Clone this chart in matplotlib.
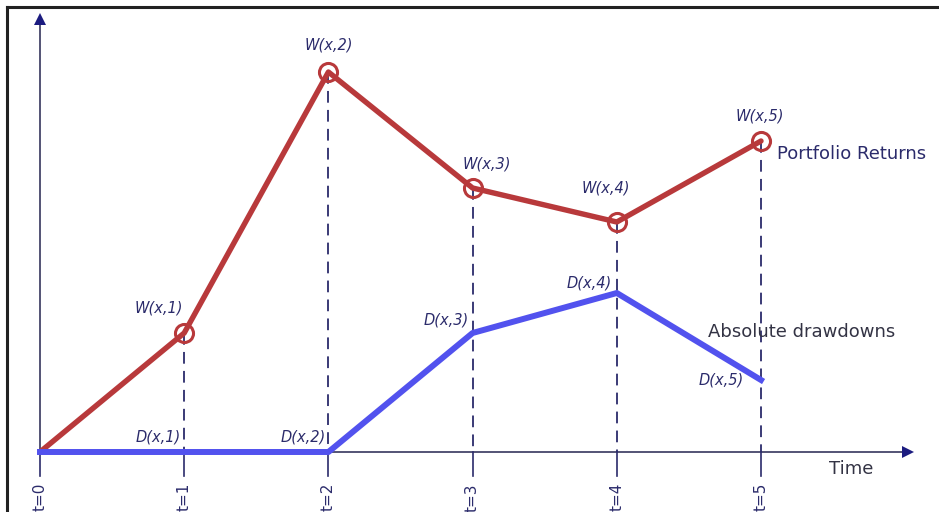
import matplotlib
matplotlib.use("Agg")
import matplotlib.pyplot as plt
from matplotlib.lines import Line2D

plt.rcParams["font.family"] = ["DejaVu Sans"]

# data
t = [0, 1, 2, 3, 4, 5]
tick_labels = ["t=0", "t=1", "t=2", "t=3", "t=4", "t=5"]
portfolio = [0, 11.9, 38.0, 26.4, 23.0, 31.1]
drawdown = [0, 0, 0, 11.9, 15.9, 7.2]
w_labels = ["W(x,1)", "W(x,2)", "W(x,3)", "W(x,4)", "W(x,5)"]
d_labels = ["D(x,1)", "D(x,2)", "D(x,3)", "D(x,4)", "D(x,5)"]

# label offsets in pixels (style only)
w_off = [(-25, 25), (0, 27), (14, 24), (-11, 34), (-1, 25)]
d_off = [(-3, 15), (-3, 15), (-4, 13), (-5, 10), (-17, 0)]

red = "#b8393b"
blue = "#5252ee"
navy = "#2b2b6b"
axcol = "#45456a"
head = "#1c1c80"

fig = plt.figure(figsize=(9.39, 5.12), dpi=100)
ax = fig.add_axes([0, 0, 1, 1])
ax.set_xlim(-40 / 144.2, 899 / 144.2)
ax.set_ylim(-6.0, 45.2)
ax.axis("off")

# axes lines with triangular heads
ax.plot([0, 5.98], [0, 0], color=axcol, lw=1.3, zorder=1)
ax.plot([0, 0], [0, 42.8], color=axcol, lw=1.3, zorder=1)
ax.plot([6.02], [0], marker=">", color=head, ms=9, mew=0, zorder=2)
ax.plot([0], [43.3], marker="^", color=head, ms=9, mew=0, zorder=2)

# ticks below the axis and dashed drops
for i, ti in enumerate(t):
    ax.plot([ti, ti], [0, -2.4], color=navy, lw=1.2)
    if i > 0:
        ax.plot([ti, ti], [portfolio[i], 0], color=navy, lw=1.3,
                dashes=(6.5, 4))
    ax.text(ti, -3.1, tick_labels[i], rotation=90, ha="center", va="top",
            fontsize=11, color=navy)

# series
ax.plot(t, portfolio, color=red, lw=3.9, solid_capstyle="round",
        solid_joinstyle="round", zorder=3)
ax.plot(t[1:], portfolio[1:], ls="none", marker="o", ms=13, mfc="none",
        mec=red, mew=2.2, zorder=4)
ax.plot(t, drawdown, color=blue, lw=4.3, solid_joinstyle="round", zorder=3)

for i in range(5):
    ax.annotate(w_labels[i], xy=(t[i + 1], portfolio[i + 1]), xytext=w_off[i],
                textcoords="offset pixels", ha="center", va="center",
                fontsize=10.5, style="italic", color=navy)
    ax.annotate(d_labels[i], xy=(t[i + 1], drawdown[i + 1]), xytext=d_off[i],
                textcoords="offset pixels", ha="right", va="center",
                fontsize=10.5, style="italic", color=navy)

ax.text((777 - 40) / 144.2, (452 - 154) / 10, "Portfolio Returns",
        ha="left", va="center", fontsize=13, color=navy)
ax.text((708 - 40) / 144.2, (452 - 332) / 10, "Absolute drawdowns",
        ha="left", va="center", fontsize=13, color="#333344")
ax.text((829 - 40) / 144.2, (452 - 469) / 10, "Time",
        ha="left", va="center", fontsize=13, color="#333344")

# frame on top and left
fig.add_artist(Line2D([7 / 939, 1], [1 - 7 / 512, 1 - 7 / 512],
                      color="#222222", lw=2.2, transform=fig.transFigure))
fig.add_artist(Line2D([7 / 939, 7 / 939], [0, 1 - 7 / 512],
                      color="#222222", lw=2.2, transform=fig.transFigure))

fig.savefig("out.png", dpi=100)
